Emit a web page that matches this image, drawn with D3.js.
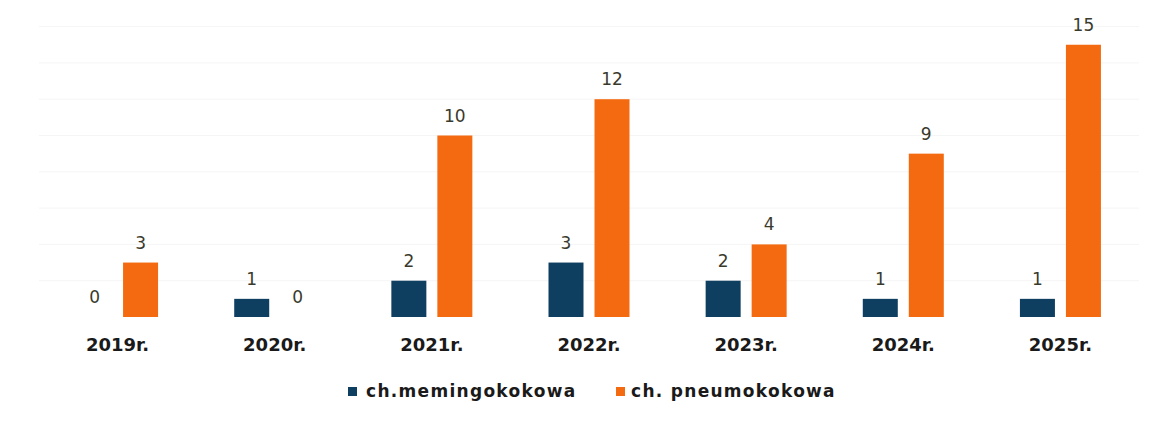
<!DOCTYPE html>
<html><head><meta charset="utf-8">
<script src="https://cdn.jsdelivr.net/npm/d3@7"></script>
<style>body{margin:0;background:#fff}svg{display:block}</style>
</head><body>
<script>
const categories = ["2019r.","2020r.","2021r.","2022r.","2023r.","2024r.","2025r."];
const seriesNames = ["ch.memingokokowa","ch. pneumokokowa"];
const meningo = [0,1,2,3,2,1,1];
const pneumo = [3,0,10,12,4,9,15];
const colors = ["#0e3f61","#f36a10"];
const gridTicks = [2,4,6,8,10,12,14,16];

const W=1161,H=421;
const FONT="DejaVu Sans, Verdana, sans-serif";
const svg=d3.select("body").append("svg").attr("width",W).attr("height",H);
const x=d3.scaleBand().domain(categories).range([39,1139]).padding(0);
const y=d3.scaleLinear().domain([0,16]).range([317,26.6]);
const barW=35,gap=11;
const data=categories.map((c,i)=>({c,vals:[meningo[i],pneumo[i]]}));

// faint gridlines
svg.append("g").selectAll("line").data(gridTicks).join("line")
 .attr("x1",39).attr("x2",1139).attr("y1",d=>y(d)).attr("y2",d=>y(d))
 .attr("stroke","#f5f5f5").attr("stroke-width",1);

const g=svg.append("g").selectAll("g").data(data).join("g")
 .attr("transform",d=>`translate(${x(d.c)+x.bandwidth()/2},0)`);
const offs=[-gap/2-barW,gap/2];
[0,1].forEach(s=>{
  g.append("rect").attr("x",offs[s]).attr("width",barW)
   .attr("y",d=>y(d.vals[s])).attr("height",d=>y(0)-y(d.vals[s]))
   .attr("fill",colors[s]);
  g.append("text").attr("x",offs[s]+barW/2).attr("y",d=>y(d.vals[s])-14)
   .attr("text-anchor","middle").attr("font-family",FONT)
   .attr("font-size",17).attr("fill","#3a3a2c").text(d=>d.vals[s]);
});
g.append("text").attr("x",0).attr("y",351).attr("text-anchor","middle")
 .attr("font-family",FONT).attr("font-weight","bold")
 .attr("font-size",18).attr("fill","#1a1a1a").text(d=>d.c);

// legend
const leg=[{x:348,tx:366},{x:616,tx:631}];
seriesNames.forEach((n,i)=>{
  svg.append("rect").attr("x",leg[i].x).attr("y",387).attr("width",9).attr("height",9).attr("fill",colors[i]);
  svg.append("text").attr("x",leg[i].tx).attr("y",397).attr("font-family",FONT)
   .attr("font-weight","bold").attr("font-size",17).attr("letter-spacing",1.3)
   .attr("fill","#1a1a1a").text(n);
});
</script>
</body></html>
